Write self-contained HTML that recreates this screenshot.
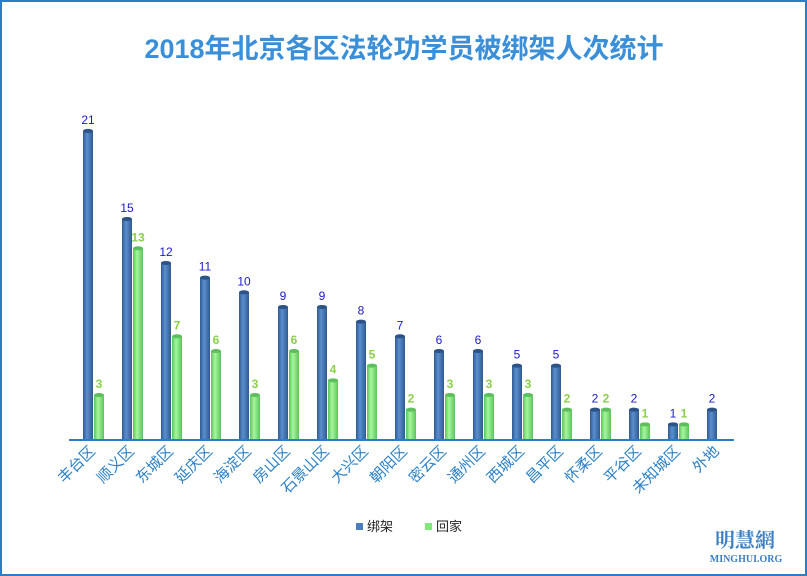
<!DOCTYPE html>
<html><head><meta charset="utf-8"><style>
body{margin:0;background:#fff}
svg{display:block;font-family:"Liberation Sans","Noto Sans CJK SC",sans-serif}
</style></head><body>
<svg id="chart" width="807" height="576" viewBox="0 0 807 576">
<defs>
<linearGradient id="gb" x1="0" x2="1"><stop offset="0" stop-color="#2f5a8f"/><stop offset="0.4" stop-color="#5b8fd0"/><stop offset="1" stop-color="#2f5a8f"/></linearGradient>
<linearGradient id="gg" x1="0" x2="1"><stop offset="0" stop-color="#5cc45c"/><stop offset="0.4" stop-color="#a6f79a"/><stop offset="1" stop-color="#5cc45c"/></linearGradient>
</defs>
<rect x="1" y="1" width="805" height="574" fill="#fff" stroke="#2e7dc4" stroke-width="2"/>
<text x="404" y="58" text-anchor="middle" font-size="27" font-weight="bold" fill="#3a8fd8">2018年北京各区法轮功学员被绑架人次统计</text>
<g id="bars"></g>
<line x1="69" y1="440" x2="734" y2="440" stroke="#2e7dc4" stroke-width="2"/>
<g>
<rect x="356" y="523" width="7" height="7" fill="#4a7ebf"/>
<text x="367" y="531" font-size="13" fill="#222">绑架</text>
<rect x="425" y="523" width="7" height="7" fill="#7ee87a"/>
<text x="436" y="531" font-size="13" fill="#222">回家</text>
</g>
<text x="745" y="547" text-anchor="middle" font-size="20" font-weight="bold" fill="#3d7fc4" font-family="Liberation Serif,'Noto Serif CJK SC',serif">明慧網</text>
<text x="746" y="562" text-anchor="middle" font-size="10" font-weight="bold" fill="#3d7fc4" font-family="Liberation Serif,serif">MINGHUI.ORG</text>
</svg>
<script>
const categories=["丰台区","顺义区","东城区","延庆区","海淀区","房山区","石景山区","大兴区","朝阳区","密云区","通州区","西城区","昌平区","怀柔区","平谷区","未知城区","外地"];
const abducted=[21,15,12,11,10,9,9,8,7,6,6,5,5,2,2,1,2];
const returned=[3,13,7,6,3,6,4,5,2,3,3,3,2,2,1,1,0];
const NS="http://www.w3.org/2000/svg";
const g=document.getElementById('bars');
const base=439, unit=14.67, x0=88, step=39, bw=10;
const yS=v=>base-v*unit;
const xS=i=>x0+i*step;
function el(t,a){const e=document.createElementNS(NS,t);for(const k in a)e.setAttribute(k,a[k]);g.appendChild(e);return e;}
function bar(x,v,fill,top,lab,col,name){
  const y=yS(v);
  const r=el('rect',{x:x,y:y,width:bw,height:base-y,fill:fill});
  
  
  const c=el('ellipse',{cx:x+bw/2,cy:y,rx:bw/2,ry:2,fill:top});
  
  
  const t=el('text',{x:x+bw/2,y:y-7,'text-anchor':'middle','font-size':12,fill:col,'font-weight':col=='#8ad14a'?'bold':'normal'});
  t.textContent=lab;
  
  
}
categories.forEach((c,i)=>{
  const cx=xS(i);
  bar(cx-bw/2,abducted[i],'url(#gb)','#2c5286',abducted[i],'#1a1acc','bar-abducted-'+i);
  if(returned[i]>0)bar(cx+bw/2+1,returned[i],'url(#gg)','#5cbf5c',returned[i],'#8ad14a','bar-returned-'+i);
  const t=el('text',{x:cx+8,y:452,'text-anchor':'end','font-size':15,fill:'#2a7fc7',transform:`rotate(-45 ${cx+8} 452)`});
  t.textContent=c;
  
  
});
</script>
</body></html>
